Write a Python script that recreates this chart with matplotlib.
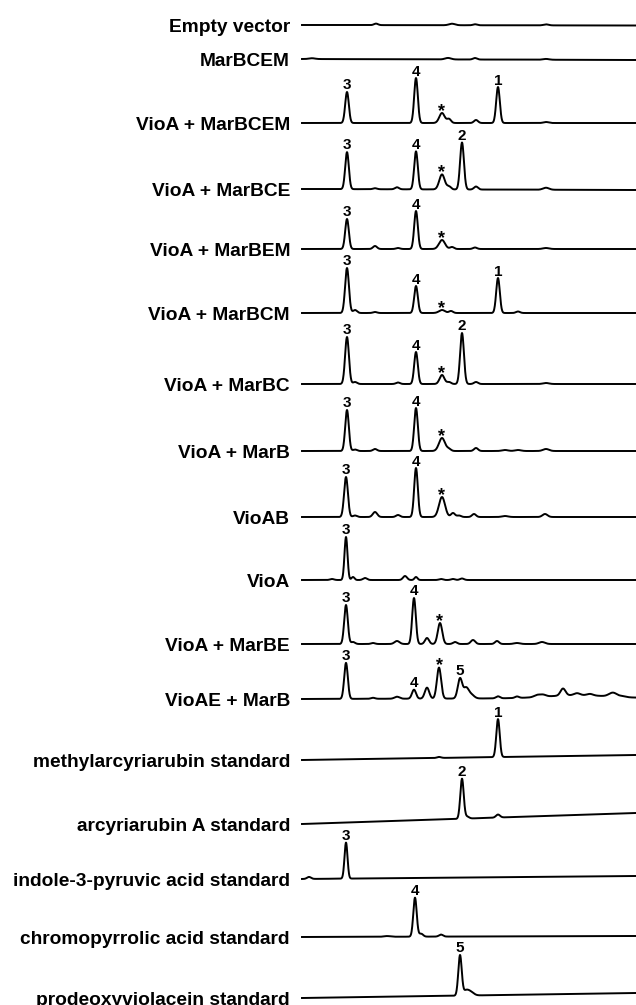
import numpy as np
import matplotlib
matplotlib.use('Agg')
import matplotlib.pyplot as plt
from matplotlib.textpath import TextPath
from matplotlib.font_manager import FontProperties

# HPLC traces, one peak table per sample: (retention, height, width, label)
# retention in arbitrary time units, height in detector units
empty_vector = [(7.4, 1.5, 0.2, ''), (15.0, 1.5, 0.3, ''), (17.3, 1.0, 0.2, ''),
                (24.4, 1.0, 0.25, '')]
marBCEM = [(1.0, 0.8, 0.3, ''), (14.6, 1.5, 0.3, ''), (17.3, 1.5, 0.2, ''),
           (24.4, 0.8, 0.3, '')]
vioA_marBCEM = [(4.5, 31, 0.18, '3'), (11.4, 45, 0.18, '4'), (14.0, 10, 0.27, '*'),
                (14.7, 4, 0.2, ''), (17.4, 3, 0.2, ''), (19.6, 36, 0.18, '1'),
                (24.4, 1, 0.25, '')]
vioA_marBCE = [(4.5, 37, 0.18, '3'), (7.3, 1, 0.2, ''), (9.5, 2, 0.2, ''),
               (11.4, 38, 0.18, '4'), (14.0, 15, 0.27, '*'), (14.7, 3, 0.2, ''),
               (16.0, 47, 0.19, '2'), (17.4, 3, 0.2, ''), (24.4, 2, 0.3, '')]
vioA_marBEM = [(4.5, 30, 0.18, '3'), (7.3, 3, 0.2, ''), (9.6, 1, 0.2, ''),
               (11.4, 38, 0.18, '4'), (14.0, 9, 0.3, '*'), (15.0, 2, 0.2, ''),
               (17.3, 1.5, 0.2, ''), (24.4, 1, 0.3, '')]
vioA_marBCM = [(4.5, 45, 0.19, '3'), (5.3, 3, 0.2, ''), (7.3, 1, 0.2, ''),
               (11.4, 27, 0.18, '4'), (14.0, 3, 0.3, '*'), (14.9, 2, 0.2, ''),
               (19.6, 35, 0.18, '1'), (21.6, 1.5, 0.2, '')]
vioA_marBC = [(4.5, 47, 0.19, '3'), (5.3, 2, 0.2, ''), (9.6, 1.5, 0.2, ''),
              (11.4, 32, 0.18, '4'), (14.0, 9, 0.24, '*'), (14.7, 2, 0.2, ''),
              (16.0, 51, 0.19, '2'), (17.4, 2, 0.2, ''), (24.4, 1, 0.3, '')]
vioA_marB = [(4.5, 41, 0.18, '3'), (5.3, 1.5, 0.2, ''), (7.3, 2, 0.2, ''),
             (11.4, 43, 0.18, '4'), (14.0, 13, 0.3, '*'), (14.7, 2, 0.2, ''),
             (17.4, 3, 0.2, ''), (20.3, 1, 0.3, ''), (21.6, 1, 0.3, ''),
             (24.4, 2, 0.3, '')]
vioAB = [(4.4, 40, 0.19, '3'), (5.3, 1.5, 0.2, ''), (7.3, 5, 0.22, ''),
         (9.6, 2, 0.2, ''), (11.4, 49, 0.18, '4'), (14.0, 20, 0.3, '*'),
         (15.1, 4, 0.2, ''), (15.7, 1.5, 0.2, ''), (17.2, 3, 0.2, ''),
         (20.3, 1, 0.3, ''), (24.3, 3, 0.25, '')]
vioA = [(3.0, 1, 0.2, ''), (4.4, 43, 0.15, '3'), (5.1, 3, 0.15, ''), (6.3, 2, 0.2, ''),
        (10.3, 4, 0.2, ''), (11.4, 3, 0.15, ''), (13.9, 1, 0.2, ''),
        (15.1, 1, 0.2, ''), (16.0, 1.5, 0.2, '')]
vioA_marBE = [(4.4, 39, 0.18, '3'), (5.1, 2, 0.2, ''), (7.1, 1, 0.2, ''),
              (9.5, 3, 0.25, ''), (11.2, 46, 0.18, '4'), (12.5, 6, 0.2, ''),
              (13.8, 21, 0.22, '*'), (15.3, 2, 0.2, ''), (17.1, 4, 0.22, ''),
              (19.5, 3, 0.2, ''), (21.5, 1, 0.3, ''), (24.0, 2, 0.3, '')]
vioAE_marB = [(4.4, 36, 0.18, '3'), (7.1, 1, 0.2, ''), (9.5, 2, 0.25, ''),
              (11.2, 9, 0.2, '4'), (12.5, 11, 0.22, ''), (13.7, 31, 0.21, '*'),
              (15.8, 20, 0.22, '5'), (16.4, 10, 0.25, ''), (16.9, 4, 0.3, ''),
              (19.6, 2, 0.2, ''), (21.5, 1.5, 0.2, ''), (23.5, 2, 0.3, ''),
              (24.1, 2, 0.3, ''), (27.5, 3, 3.0, ''), (26.1, 7, 0.25, ''),
              (27.5, 2, 0.3, ''), (28.8, 1.5, 0.3, ''), (31.1, 4, 0.4, ''),
              (32.1, 1, 0.3, '')]
methylarcyriarubin = [(13.7, 1, 0.2, ''), (19.6, 38, 0.17, '1')]
arcyriarubin_A = [(16.0, 40, 0.17, '2'), (16.5, 2, 0.2, ''), (19.6, 3, 0.2, '')]
indole_pyruvic = [(0.7, 2, 0.2, ''), (4.4, 36, 0.15, '3')]
chromopyrrolic = [(8.5, 0.7, 0.3, ''), (11.3, 39, 0.17, '4'), (11.9, 3, 0.2, ''),
                  (13.9, 2, 0.2, '')]
prodeoxyviolacein = [(15.8, 40, 0.17, '5'), (16.4, 5, 0.3, ''), (16.9, 3, 0.3, '')]

samples = ['Empty vector', 'MarBCEM', 'VioA + MarBCEM', 'VioA + MarBCE',
           'VioA + MarBEM', 'VioA + MarBCM', 'VioA + MarBC', 'VioA + MarB',
           'VioAB', 'VioA', 'VioA + MarBE', 'VioAE + MarB',
           'methylarcyriarubin standard', 'arcyriarubin A standard',
           'indole-3-pyruvic acid standard', 'chromopyrrolic acid standard',
           'prodeoxyviolacein standard']
peak_tables = [empty_vector, marBCEM, vioA_marBCEM, vioA_marBCE, vioA_marBEM,
               vioA_marBCM, vioA_marBC, vioA_marB, vioAB, vioA, vioA_marBE,
               vioAE_marB, methylarcyriarubin, arcyriarubin_A, indole_pyruvic,
               chromopyrrolic, prodeoxyviolacein]
# baseline drift across the run (start, end)
drift = [(0, -0.5), (0, -1), (0, 0), (0, -1), (0, 0), (0, 0), (0, 0), (0, 0),
         (0, 0), (0, 0), (0, 0), (0, 1), (0, 5), (0, 11), (0, 3), (0, 1), (0, 5)]

# layout: baseline row of each trace (figure pixels from top)
rows = [25, 59, 123, 189, 249, 313, 384, 451, 517, 580, 644, 699, 760, 824,
        879, 937, 998]

plt.rcParams['font.family'] = ['Liberation Sans', 'DejaVu Sans']
fig = plt.figure(figsize=(6.36, 10.05), dpi=100)
ax = fig.add_axes([0, 0, 1, 1])
ax.set_xlim(-30.2, 33.4)
ax.set_ylim(1005, 0)
ax.axis('off')

t = np.arange(0.0, 33.4, 0.02)
px = 100 / 72.0
fp = FontProperties(family='Liberation Sans', weight='bold')


def trace(peaks, d):
    y = d[0] + (d[1] - d[0]) * t / t[-1]
    for rt, h, w, _ in peaks:
        y = y + h * np.exp(-0.5 * ((t - rt) / w) ** 2)
    return y


def ink_bottom(s, size):
    # distance (pixels) from text baseline to the bottom of the glyph ink
    return TextPath((0, 0), s, size=size, prop=fp).get_extents().y0 * px


for name, peaks, d, row in zip(samples, peak_tables, drift, rows):
    sig = trace(peaks, d)
    ax.plot(t, row - sig, color='black', lw=1.4, solid_joinstyle='round')
    ax.text(-1.2, row + 6.5, name, ha='right', va='baseline',
            fontsize=13.8, fontweight='bold')
    for rt, h, w, lab in peaks:
        if not lab:
            continue
        top = row - sig[np.argmin(np.abs(t - rt))]
        fs = 13 if lab == '*' else 11
        gap = 3 if lab == '*' else 2.5
        ax.text(rt, top - gap + ink_bottom(lab, fs), lab, ha='center',
                va='baseline', fontsize=fs, fontweight='bold')

fig.savefig('out.png', dpi=100)
